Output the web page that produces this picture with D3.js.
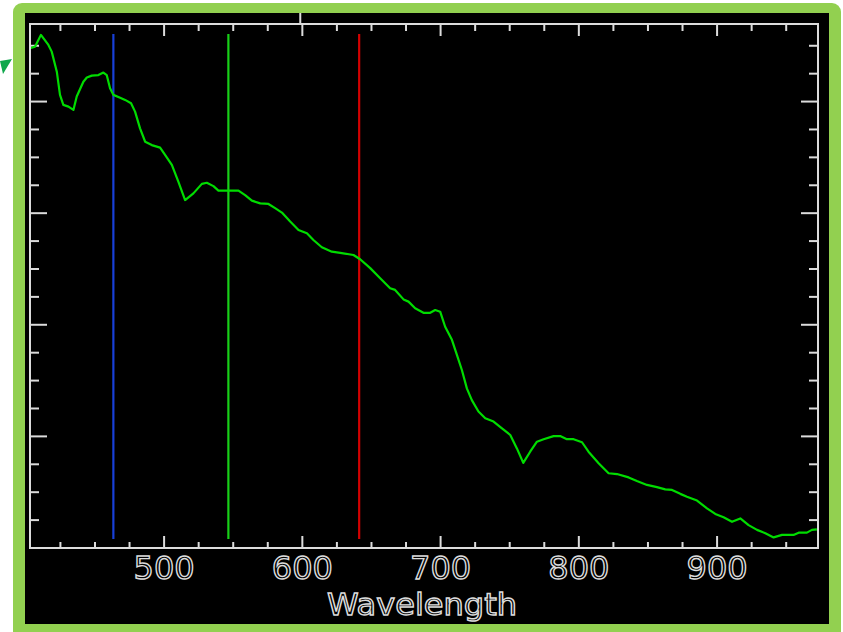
<!DOCTYPE html>
<html>
<head>
  <meta charset="utf-8">
  <script src="https://cdn.jsdelivr.net/npm/d3@7"></script>
  <style>
    body { margin: 0; background: #fff; }
    svg { display: block; }
  </style>
</head>
<body>
<svg id="svg" width="843" height="632"></svg>
<script>
  // spectrum (nm, reflectance)
  var wavelength = [403.0, 406.7, 410.9, 416.3, 418.7, 422.4, 424.7, 427.1, 430.8, 434.4,
    436.8, 441.6, 444.1, 447.7, 452.5, 456.1, 458.5, 460.9, 463.3, 468.2,
    471.8, 476.1, 479.0, 482.6, 486.3, 491.1, 497.1, 500.7, 505.6, 510.3,
    515.2, 521.2, 527.3, 530.9, 535.7, 539.3, 553.8, 558.6, 563.5, 569.5,
    575.5, 580.3, 585.2, 591.2, 597.2, 603.3, 608.0, 614.1, 621.3, 627.4,
    637.0, 641.8, 649.1, 656.3, 663.5, 667.1, 673.2, 676.8, 681.6, 687.6,
    692.5, 696.1, 699.7, 703.3, 708.2, 711.8, 715.4, 719.0, 722.6, 727.4,
    732.3, 738.3, 744.4, 750.4, 755.2, 759.8, 764.8, 769.7, 774.5, 781.7,
    786.5, 791.4, 796.2, 802.3, 807.0, 814.3, 821.5, 827.6, 836.0, 842.0,
    849.3, 856.5, 862.5, 867.4, 873.4, 878.2, 885.5, 892.7, 898.7, 904.7,
    910.8, 916.8, 922.8, 928.9, 934.9, 940.9, 947.0, 955.3, 959.0, 965.0,
    968.6, 972.2];
  var reflectance = [0.1791, 0.1797, 0.1839, 0.1803, 0.1779, 0.1707, 0.1624, 0.1588, 0.1582, 0.1570,
    0.1618, 0.1671, 0.1686, 0.1693, 0.1695, 0.1704, 0.1695, 0.1648, 0.1624, 0.1614,
    0.1606, 0.1594, 0.1564, 0.1504, 0.1456, 0.1444, 0.1435, 0.1409, 0.1373, 0.1313,
    0.1247, 0.1271, 0.1305, 0.1309, 0.1297, 0.1281, 0.1281, 0.1265, 0.1245, 0.1235,
    0.1233, 0.1218, 0.1202, 0.1170, 0.1140, 0.1128, 0.1104, 0.1078, 0.1062, 0.1058,
    0.1050, 0.1035, 0.1003, 0.0967, 0.0931, 0.0925, 0.0891, 0.0883, 0.0859, 0.0843,
    0.0843, 0.0853, 0.0847, 0.0793, 0.0746, 0.0692, 0.0638, 0.0572, 0.0530, 0.0489,
    0.0465, 0.0453, 0.0429, 0.0405, 0.0357, 0.0305, 0.0345, 0.0381, 0.0390, 0.0401,
    0.0401, 0.0390, 0.0390, 0.0379, 0.0345, 0.0304, 0.0268, 0.0265, 0.0253, 0.0240,
    0.0226, 0.0218, 0.0210, 0.0208, 0.0194, 0.0184, 0.0170, 0.0142, 0.0122, 0.0110,
    0.0094, 0.0106, 0.0082, 0.0065, 0.0053, 0.0038, 0.0047, 0.0047, 0.0055, 0.0055,
    0.0065, 0.0067];

  var xTickLabels = [500, 600, 700, 800, 900];
  var bandWavelengths = [463.3, 546.5, 641.1];
  var bandColors = ['#1840d8', '#18d018', '#d40000'];

  var svg = d3.select('#svg');

  // green frame + black panel
  svg.append('rect').attr('x', 13).attr('y', 3).attr('width', 828).attr('height', 640)
    .attr('rx', 9).attr('fill', '#92d050');
  svg.append('rect').attr('x', 25).attr('y', 13).attr('width', 804).attr('height', 611)
    .attr('fill', '#000');

  // little arrow head poking in from the left
  svg.append('polygon').attr('points', '0,61 12,59 3,74').attr('fill', '#10a84c');

  // plot box edges (note: `top` is reserved on window, so prefixed names)
  var pLeft = 30, pRight = 818, pTop = 24, pBottom = 548;
  var x = d3.scaleLinear().domain([403, 973]).range([pLeft, pRight]);
  var y = d3.scaleLinear().domain([0, 0.1878]).range([pBottom, pTop]);

  var axisColor = '#dcdcdc';
  var g = svg.append('g');

  // x ticks, every 25 nm, long every 100
  var xt = d3.range(425, 973, 25);
  xt.forEach(function (t) {
    var major = t % 100 === 0;
    g.append('line').attr('x1', x(t)).attr('x2', x(t))
      .attr('y1', pBottom).attr('y2', pBottom - (major ? 12 : 6))
      .attr('stroke', axisColor).attr('stroke-width', 2);
    g.append('line').attr('x1', x(t)).attr('x2', x(t))
      .attr('y1', pTop).attr('y2', pTop + (major ? 12 : 7))
      .attr('stroke', axisColor).attr('stroke-width', 2);
  });

  // y ticks, every 0.01, long every 0.04
  d3.range(1, 19).forEach(function (k) {
    var major = k % 4 === 0;
    var len = major ? 17 : 9;
    g.append('line').attr('x1', pLeft).attr('x2', pLeft + len)
      .attr('y1', y(k / 100)).attr('y2', y(k / 100))
      .attr('stroke', axisColor).attr('stroke-width', 2);
    g.append('line').attr('x1', pRight).attr('x2', pRight - len)
      .attr('y1', y(k / 100)).attr('y2', y(k / 100))
      .attr('stroke', axisColor).attr('stroke-width', 2);
  });

  // cursor mark above the top axis
  g.append('line').attr('x1', x(598.5)).attr('x2', x(598.5)).attr('y1', 13).attr('y2', pTop)
    .attr('stroke', axisColor).attr('stroke-width', 2);

  // band lines
  bandWavelengths.forEach(function (w, i) {
    svg.append('line').attr('x1', x(w)).attr('x2', x(w))
      .attr('y1', y(0.1842)).attr('y2', y(0.0032))
      .attr('stroke', bandColors[i]).attr('stroke-width', 2.2);
  });

  // spectrum
  var pts = wavelength.map(function (w, i) { return [w, reflectance[i]]; });
  svg.append('path')
    .datum(pts)
    .attr('d', d3.line().x(d => x(d[0])).y(d => y(d[1])))
    .attr('fill', 'none')
    .attr('stroke', '#00dc00')
    .attr('stroke-width', 2.2)
    .attr('stroke-linejoin', 'round');

  // box
  svg.append('rect').attr('x', pLeft).attr('y', pTop)
    .attr('width', pRight - pLeft).attr('height', pBottom - pTop)
    .attr('fill', 'none').attr('stroke', axisColor).attr('stroke-width', 2);

  // tick labels (outlined, like the vector font)
  svg.selectAll('text.tick').data(xTickLabels).enter().append('text')
    .attr('class', 'tick')
    .attr('x', d => x(d)).attr('y', 579)
    .attr('text-anchor', 'middle')
    .attr('font-family', 'DejaVu Sans')
    .attr('font-size', 32)
    .attr('fill', '#000').attr('stroke', axisColor).attr('stroke-width', 1.4)
    .text(d => d);

  svg.append('text')
    .attr('x', (pLeft + pRight) / 2 - 2).attr('y', 615)
    .attr('text-anchor', 'middle')
    .attr('font-family', 'DejaVu Sans')
    .attr('font-size', 30)
    .attr('textLength', 190).attr('lengthAdjust', 'spacingAndGlyphs')
    .attr('fill', '#000').attr('stroke', axisColor).attr('stroke-width', 1.4)
    .text('Wavelength');
</script>
</body>
</html>
